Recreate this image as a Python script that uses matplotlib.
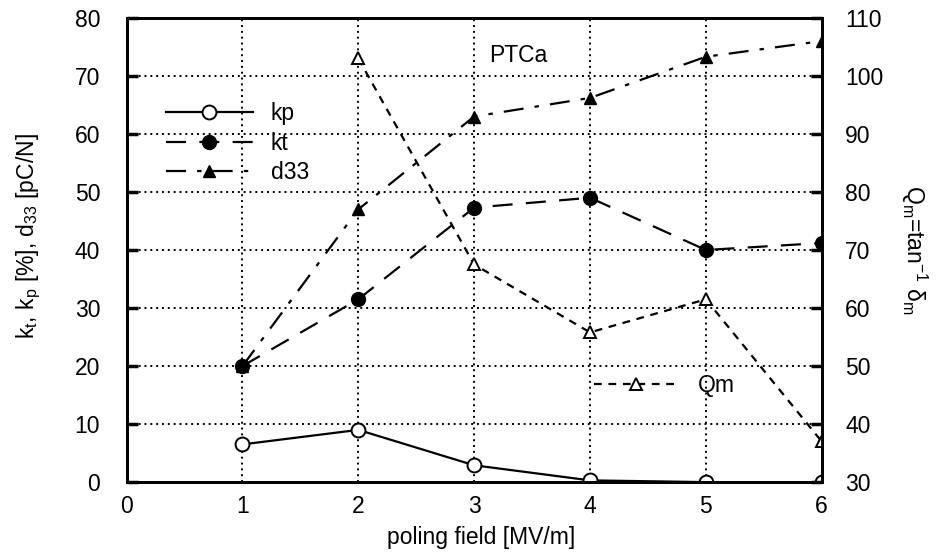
import numpy as np
from matplotlib import pyplot as plt

plt.rcParams['font.family'] = ['Liberation Sans', 'DejaVu Sans']
plt.rcParams['mathtext.fontset'] = 'custom'
plt.rcParams['mathtext.rm'] = 'Liberation Sans'
plt.rcParams['mathtext.it'] = 'Liberation Sans'

# poling field [MV/m]
field = [1, 2, 3, 4, 5, 6]
kp = [6.5, 9.0, 2.9, 0.3, 0.0, 0.0]
kt = [20.0, 31.5, 47.3, 49.0, 40.0, 41.2]
d33 = [20.0, 47.0, 63.0, 66.2, 73.3, 76.0]

qm_field = [2, 3, 4, 5, 6]
qm = [103.0, 67.5, 55.8, 61.5, 37.0]

FS = 16.5

fig = plt.figure(figsize=(9.38, 5.58), dpi=100)
ax = fig.add_axes([0.135, 0.136, 0.741, 0.832])
ax2 = ax.twinx()

ax.plot(field, kp, color='black', lw=1.6, marker='o', ms=10, mfc='white',
        mec='black', mew=1.4, label='kp')
ax.plot(field, kt, color='black', lw=1.6, dashes=(9, 6), marker='o', ms=10,
        mfc='black', mec='black', label='kt')
ax.plot(field, d33, color='black', lw=1.6, dashes=(9, 5, 2, 5), marker='^',
        ms=9, mfc='black', mec='black', label='d33')
ax2.plot(qm_field, qm, color='black', lw=1.6, dashes=(3.5, 3), marker='^',
         ms=8, mfc='white', mec='black', mew=1.4, label='Qm')

ax.set_xlim(0, 6)
ax.set_ylim(0, 80)
ax2.set_ylim(30, 110)
ax.set_xticks(range(0, 7))
ax.set_yticks(range(0, 81, 10))
ax2.set_yticks(range(30, 111, 10))

ax.grid(True, color='black', linestyle=(0, (1, 2)), lw=1.4)
for a in (ax, ax2):
    a.tick_params(direction='in', length=8, width=2.5, labelsize=FS)
    for s in a.spines.values():
        s.set_linewidth(2)
ax.tick_params(axis='y', pad=19)
ax.tick_params(axis='x', pad=9, length=0)
ax2.tick_params(axis='y', pad=17)

ax.set_xlabel('poling field [MV/m]', fontsize=FS)
ax.xaxis.set_label_coords(0.51, -0.095)
ax.set_ylabel('k$_t$, k$_p$ [%], d$_{33}$ [pC/N]', fontsize=FS)
ax.yaxis.set_label_coords(-0.12, 0.53)
ax2.set_ylabel('Q$_m$=tan$^{-1}$ δ$_m$', fontsize=FS, rotation=-90)
ax2.yaxis.set_label_coords(1.155, 0.5)

ax.text(3.13, 72.4, 'PTCa', fontsize=FS)

ax.legend(loc='center left', bbox_to_anchor=(0.056, 0.73), frameon=False,
          fontsize=FS, numpoints=1, handlelength=3.8, handletextpad=0.8,
          labelspacing=0.28, borderpad=0, borderaxespad=0)
ax2.legend(loc='center left', bbox_to_anchor=(0.673, 0.209), frameon=False,
           fontsize=FS, numpoints=1, handlelength=3.6, handletextpad=0.9,
           borderpad=0, borderaxespad=0)

fig.savefig('out.png', dpi=100)
